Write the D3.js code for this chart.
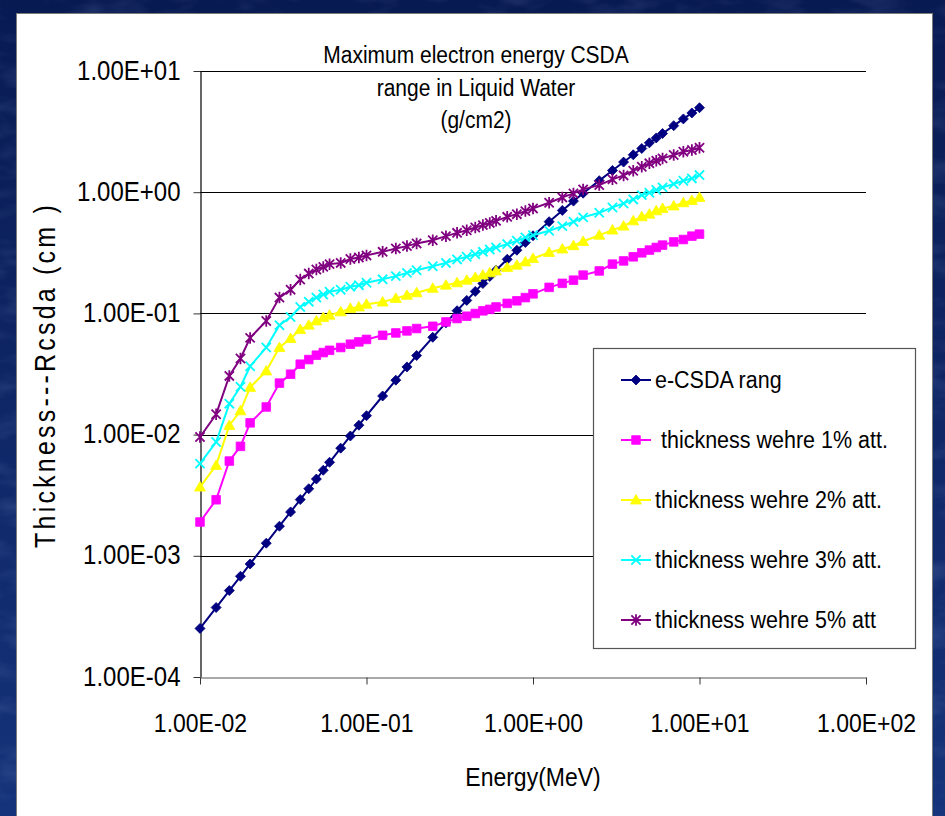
<!DOCTYPE html>
<html>
<head>
<meta charset="utf-8">
<script src="https://cdn.jsdelivr.net/npm/d3@7"></script>
<style>
  html, body { margin: 0; padding: 0; background: #0c2260; }
  svg { display: block; }
  text { font-family: "Liberation Sans", Arial, sans-serif; fill: #000; }
</style>
</head>
<body>
<svg id="chart" width="945" height="816"></svg>
<script>
// Energy grid (MeV)
const energies = [0.01, 0.0125, 0.015, 0.0175, 0.02, 0.025, 0.03, 0.035, 0.04, 0.045, 0.05, 0.055, 0.06, 0.07, 0.08, 0.09, 0.1,
  0.125, 0.15, 0.175, 0.2, 0.25, 0.3, 0.35, 0.4, 0.45, 0.5, 0.55, 0.6, 0.7, 0.8, 0.9, 1,
  1.25, 1.5, 1.75, 2, 2.5, 3, 3.5, 4, 4.5, 5, 5.5, 6, 7, 8, 9, 10];

// CSDA range of electrons in liquid water (g/cm2)
const csdaRange = [2.515e-4, 3.742e-4, 5.167e-4, 6.778e-4, 8.562e-4, 1.271e-3, 1.754e-3, 2.301e-3, 2.909e-3, 3.575e-3, 4.299e-3, 5.08e-3, 5.91e-3, 7.73e-3, 9.74e-3, 1.195e-2, 1.433e-2,
  2.082e-2, 2.813e-2, 3.618e-2, 4.492e-2, 6.348e-2, 8.360e-2, 0.1052, 0.1280, 0.1518, 0.1765, 0.2017, 0.2273, 0.2794, 0.3320, 0.3851, 0.437,
  0.5712, 0.7070, 0.8442, 0.9817, 1.245, 1.511, 1.773, 2.035, 2.295, 2.553, 2.803, 3.051, 3.540, 4.024, 4.504, 4.978];

// Thickness giving 1% attenuation (cm)
const att1 = [1.90e-3, 2.90e-3, 6.05e-3, 8.0e-3, 1.25e-2, 1.69e-2, 2.66e-2, 3.15e-2, 3.81e-2, 4.16e-2, 4.52e-2, 4.75e-2, 4.96e-2, 5.23e-2, 5.57e-2, 5.82e-2, 6.1e-2,
  6.6e-2, 6.9e-2, 7.17e-2, 7.5e-2, 7.83e-2, 8.5e-2, 9.07e-2, 9.48e-2, 9.98e-2, 0.105, 0.108, 0.113, 0.121, 0.127, 0.135, 0.145,
  0.164, 0.177, 0.188, 0.207, 0.224, 0.255, 0.271, 0.293, 0.316, 0.333, 0.350, 0.366, 0.389, 0.407, 0.434, 0.451];

// Thickness giving 2% attenuation (cm)
const att2 = [3.69e-3, 5.57e-3, 1.19e-2, 1.57e-2, 2.45e-2, 3.35e-2, 5.23e-2, 6.21e-2, 7.36e-2, 8.0e-2, 8.67e-2, 9.24e-2, 9.67e-2, 0.103, 0.110, 0.113, 0.119,
  0.124, 0.133, 0.141, 0.148, 0.161, 0.171, 0.179, 0.188, 0.198, 0.207, 0.216, 0.224, 0.239, 0.250, 0.266, 0.284,
  0.318, 0.340, 0.362, 0.392, 0.442, 0.487, 0.525, 0.580, 0.627, 0.659, 0.702, 0.734, 0.770, 0.818, 0.855, 0.906];

// Thickness giving 3% attenuation (cm)
const att3 = [5.76e-3, 8.69e-3, 1.80e-2, 2.48e-2, 3.66e-2, 5.23e-2, 8.0e-2, 9.35e-2, 0.113, 0.125, 0.135, 0.143, 0.151, 0.157, 0.166, 0.171, 0.179,
  0.191, 0.203, 0.216, 0.227, 0.245, 0.261, 0.279, 0.293, 0.308, 0.322, 0.337, 0.350, 0.373, 0.397, 0.424, 0.442,
  0.480, 0.525, 0.570, 0.620, 0.676, 0.749, 0.808, 0.872, 0.946, 0.989, 1.041, 1.096, 1.167, 1.242, 1.300, 1.384];

// Thickness giving 5% attenuation (cm)
const att5 = [9.55e-3, 1.47e-2, 3.05e-2, 4.25e-2, 6.28e-2, 8.67e-2, 0.135, 0.157, 0.190, 0.213, 0.230, 0.242, 0.255, 0.261, 0.281, 0.289, 0.301,
  0.322, 0.343, 0.359, 0.378, 0.402, 0.434, 0.462, 0.486, 0.512, 0.535, 0.558, 0.580, 0.626, 0.659, 0.698, 0.735,
  0.818, 0.906, 0.977, 1.055, 1.144, 1.276, 1.376, 1.503, 1.622, 1.730, 1.817, 1.901, 2.025, 2.156, 2.226, 2.327];

const seriesNames = ["e-CSDA rang", " thickness wehre 1% att.", "thickness wehre 2% att.", "thickness wehre 3% att.", "thickness wehre 5% att"];
const seriesValues = [csdaRange, att1, att2, att3, att5];
const seriesColors = ["#000080", "#ff00ff", "#ffff00", "#00ffff", "#800080"];
const seriesMarkers = ["diamond", "square", "triangle", "cross", "star"];

const xTicks = [1e-2, 1e-1, 1e0, 1e1, 1e2];
const yTicks = [1e-4, 1e-3, 1e-2, 1e-1, 1e0, 1e1];
const titleLines = ["Maximum electron energy CSDA", "range in Liquid Water", "(g/cm2)"];
const xTitle = "Energy(MeV)";
const yTitle = "Thickness---Rcsda (cm )";

// ---------------------------------------------------------------
const W = 945, H = 816;
const STRETCH = 1.15;            // tall, slightly condensed lettering
const plot = { left: 200, right: 866, top: 71, bottom: 677 };

const svg = d3.select("#chart");
const defs = svg.append("defs");

// slide background: dark blue with a mottled texture
const grad = defs.append("linearGradient").attr("id", "bg").attr("x1", 0).attr("y1", 0).attr("x2", 0).attr("y2", 1);
grad.append("stop").attr("offset", "0%").attr("stop-color", "#081a52");
grad.append("stop").attr("offset", "100%").attr("stop-color", "#15337a");
const tex = defs.append("filter").attr("id", "mottle").attr("x", 0).attr("y", 0).attr("width", 1).attr("height", 1);
tex.append("feTurbulence").attr("type", "fractalNoise").attr("baseFrequency", "0.02 0.05").attr("numOctaves", 3).attr("seed", 4);
tex.append("feColorMatrix").attr("type", "matrix")
  .attr("values", "0 0 0 0 0.4  0 0 0 0 0.55  0 0 0 0 0.85  0 0 0 0.9 -0.4");
svg.append("rect").attr("width", W).attr("height", H).attr("fill", "url(#bg)");
svg.append("rect").attr("width", W).attr("height", H).attr("filter", "url(#mottle)").attr("opacity", 0.35);

// white chart panel
svg.append("rect").attr("x", 16.5).attr("y", 13.5).attr("width", 916).attr("height", 810)
  .attr("fill", "#fff").attr("stroke", "#7a7a7a").attr("stroke-width", 1);

const x = d3.scaleLog().domain([1e-2, 1e2]).range([plot.left, plot.right]);
const y = d3.scaleLog().domain([1e-4, 1e1]).range([plot.bottom, plot.top]);

const sci = v => {
  const e = Math.round(Math.log10(v));
  return "1.00E" + (e < 0 ? "-" : "+") + String(Math.abs(e)).padStart(2, "0");
};

// horizontal gridlines at each decade
svg.append("g").selectAll("line").data(yTicks.filter(v => v > 1e-4)).join("line")
  .attr("x1", plot.left).attr("x2", plot.right)
  .attr("y1", d => Math.round(y(d)) + 0.5).attr("y2", d => Math.round(y(d)) + 0.5)
  .attr("stroke", "#000").attr("stroke-width", 1.2);

// y axis
const yAxis = svg.append("g").attr("transform", `translate(${plot.left + 0.5},0)`)
  .call(d3.axisLeft(y).tickValues(yTicks).tickFormat(sci).tickSize(7).tickSizeOuter(0));
yAxis.select(".domain").attr("stroke", "#000").attr("stroke-width", 1.2);
yAxis.selectAll(".tick line").attr("stroke", "#333");
yAxis.selectAll(".tick text")
  .attr("x", -20).attr("dy", null).attr("y", 0)
  .attr("transform", `translate(0,8) scale(1,${STRETCH})`)
  .style("font-size", "24px").style("font-family", "'Liberation Sans', Arial, sans-serif").attr("fill", "#000");

// x axis
const xAxis = svg.append("g").attr("transform", `translate(0,${plot.bottom + 0.5})`)
  .call(d3.axisBottom(x).tickValues(xTicks).tickFormat(sci).tickSize(7).tickSizeOuter(0));
xAxis.select(".domain").attr("stroke", "#555").attr("stroke-width", 1.2);
xAxis.selectAll(".tick line").attr("stroke", "#333");
xAxis.selectAll(".tick text")
  .attr("y", 0).attr("dy", null)
  .attr("transform", `translate(0,54) scale(1,${STRETCH})`)
  .style("font-size", "23px").style("font-family", "'Liberation Sans', Arial, sans-serif").attr("fill", "#000");

// marker shapes
function markerPath(kind, r) {
  switch (kind) {
    case "diamond": return `M0,${-r}L${r},0L0,${r}L${-r},0Z`;
    case "square": return `M${-r},${-r}H${r}V${r}H${-r}Z`;
    case "triangle": return `M0,${-r * 1.1}L${r * 1.1},${r * 0.8}L${-r * 1.1},${r * 0.8}Z`;
    case "cross": return `M${-r},${-r}L${r},${r}M${-r},${r}L${r},${-r}`;
    case "star": return `M${-r},${-r}L${r},${r}M${-r},${r}L${r},${-r}M0,${-r * 1.25}L0,${r * 1.25}`;
  }
}
const markerSize = { diamond: 5, square: 4.3, triangle: 5, cross: 4.6, star: 4.6 };
const isStroke = k => k === "cross" || k === "star";

function drawMarker(sel, kind, color) {
  sel.attr("d", markerPath(kind, markerSize[kind]))
    .attr("fill", isStroke(kind) ? "none" : color)
    .attr("stroke", color)
    .attr("stroke-width", isStroke(kind) ? 1.8 : 0.8)
    .attr("stroke-linejoin", "miter");
}

const line = d3.line().x(d => x(d[0])).y(d => y(d[1]));

seriesValues.forEach((vals, i) => {
  const pts = energies.map((e, j) => [e, vals[j]]);
  const g = svg.append("g");
  g.append("path").datum(pts).attr("d", line)
    .attr("fill", "none").attr("stroke", seriesColors[i]).attr("stroke-width", 2);
  g.selectAll("path.m").data(pts).join("path").attr("class", "m")
    .attr("transform", d => `translate(${x(d[0])},${y(d[1])})`)
    .call(drawMarker, seriesMarkers[i], seriesColors[i]);
});

// chart title
const titleG = svg.append("g");
titleLines.forEach((t, i) => {
  titleG.append("text")
    .attr("transform", `translate(476,${63 + i * 32.5}) scale(1,${STRETCH})`)
    .attr("text-anchor", "middle").style("font-size", "21px").text(t);
});

// axis titles
svg.append("text")
  .attr("transform", `translate(533,786) scale(1,${STRETCH})`)
  .attr("text-anchor", "middle").style("font-size", "23px").text(xTitle);
svg.append("text")
  .attr("transform", `translate(55,375) rotate(-90) scale(1,${STRETCH})`)
  .attr("text-anchor", "middle").style("font-size", "25px").style("letter-spacing", "3.2px").text(yTitle);

// legend
const legend = svg.append("g");
legend.append("rect").attr("x", 593.5).attr("y", 348.5).attr("width", 322).attr("height", 300)
  .attr("fill", "#fff").attr("stroke", "#555").attr("stroke-width", 1.2);
seriesNames.forEach((name, i) => {
  const cy = 380 + i * 60;
  const row = legend.append("g").attr("transform", `translate(0,${cy})`);
  row.append("line").attr("x1", 621).attr("x2", 651).attr("y1", 0).attr("y2", 0)
    .attr("stroke", seriesColors[i]).attr("stroke-width", 2);
  row.append("path").attr("transform", "translate(636,0)").call(drawMarker, seriesMarkers[i], seriesColors[i]);
  row.append("text").attr("transform", `translate(655,8) scale(1,${STRETCH})`)
    .style("font-size", "21.5px").style("white-space", "pre").attr("xml:space", "preserve").text(name);
});
</script>
</body>
</html>
